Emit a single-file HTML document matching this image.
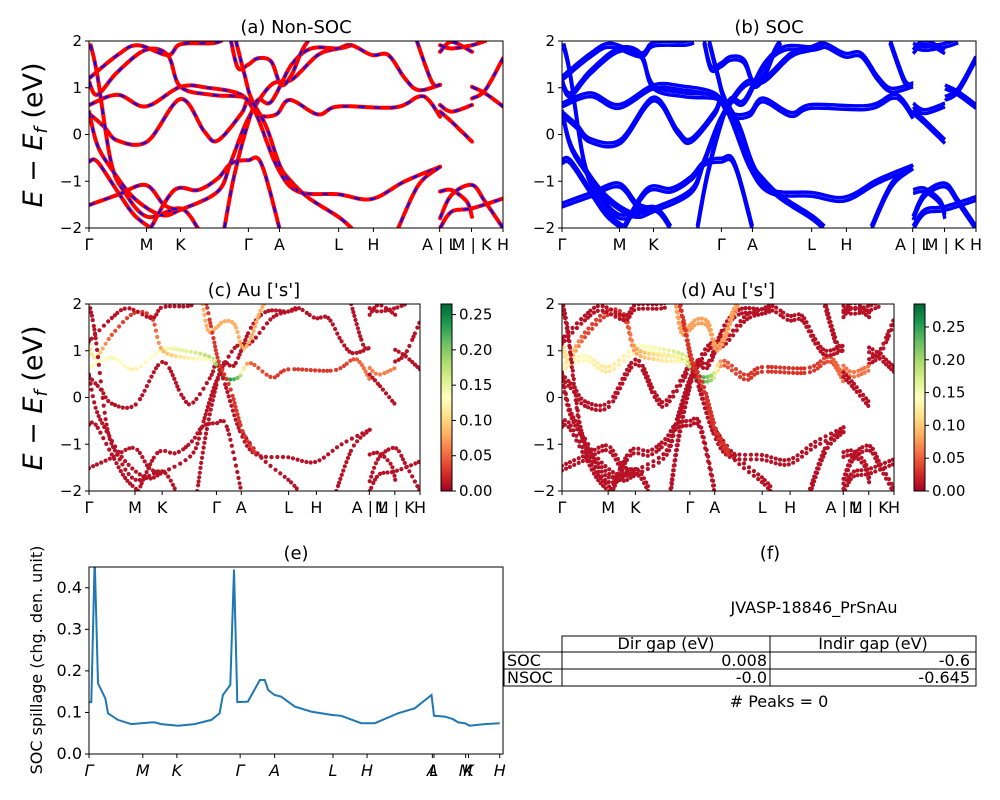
<!DOCTYPE html>
<html><head><meta charset="utf-8"><style>
html,body{margin:0;padding:0;background:#fff}
svg{display:block;font-family:"DejaVu Sans","Liberation Sans",sans-serif}
</style></head><body>
<svg id="fig" width="1000" height="800" viewBox="0 0 1000 800" xmlns="http://www.w3.org/2000/svg"></svg>
<script>
// ---- data ----
const kTickPos = [0,1.39,2.21,3.85,4.6,6.03,6.87,8.47,9.24,10];
const kTickLabels = ["Γ","M","K","Γ","A","L","H","A | L","M | K","H"];
const eTicks = [-2,-1,0,1,2];
const bandK = [
 [0,0.69,1.37,2.21,2.87,3.68,4.08,4.52,4.85,5.53,6.02,7.39,7.96,8.2,8.48],
 [0,0.36,0.69,1.41,2.21,2.79,3.11,3.68,3.85,4.08,4.56,5.05,6.02,6.83,7.63,8.48],
 [8.48,7.96,7.47],
 [0,0.2,0.69,1.37,1.9,2.21,2.95,3.68,3.85],
 [0,0.69,1.17,1.9,2.21,2.95,3.19],
 [0.04,0.2,0.53,0.85,1.41,2.21,2.63],
 [0,0.2,0.53,1.09,1.74,2.21,3.11,3.43,3.85,4.4,4.89,5.53,6.02,6.34,6.83,7.23,7.63,7.96,8.48],
 [0,0.2,0.69,1.09,1.49],
 [0,0.69,1.37,1.82,2.21],
 [1.49,2.06,2.63,3.11,3.43,3.84,4.16,4.6],
 [3.27,3.51,3.85,4.08,4.4,4.89,5.37,6.02,6.34],
 [4.6,5.21,6.02,6.34],
 [3.43,3.6,3.84,4.08,4.4,4.64,4.89,5.13,5.29],
 [3.55,3.76,3.92,4.28,4.64,5.05],
 [7.92,8.28,8.48],
 [8.48,8.76,9.25],
 [8.48,8.76,9.25,9.57],
 [9.25,9.57,10],
 [9.25,9.57,10],
 [8.48,8.76,9.25],
 [8.48,8.76,9.25],
 [8.48,8.76,9.13,9.25],
 [8.48,8.76,9.25,9.57,10],
 [8.48,8.76,9.25,10]
];
const bandE = [
 [0.63,0.85,0.60,1.02,1.0,0.85,0.43,0.43,0.74,0.43,0.6,0.58,0.81,0.74,0.38],
 [0.45,0.17,-0.13,-0.15,0.76,0.06,-0.13,0.45,0.74,0.35,-0.72,-1.22,-1.28,-1.38,-1.0,-0.69],
 [-0.69,-1.08,-2],
 [1.13,0.85,1.34,1.81,1.70,1.02,0.85,0.81,0.70],
 [1.2,1.7,1.91,1.7,1.93,1.95,2.0],
 [1.91,1.27,-0.58,-1.22,-1.76,-1.58,-2],
 [0.49,-0.22,-0.72,-1.36,-1.72,-1.61,-1.22,-0.58,0.35,1.06,1.17,1.70,1.84,1.91,1.70,1.70,1.2,0.95,1.06],
 [-0.58,-0.58,-1.22,-1.72,-2],
 [-1.51,-1.29,-1.08,-1.51,-1.61],
 [-2,-1.19,-1.19,-0.94,-0.62,-0.55,-0.62,-2],
 [-2,-0.87,0.27,0.74,0.7,1.49,1.84,1.84,1.91],
 [-0.72,-1.29,-1.76,-2],
 [2,1.42,1.49,1.63,1.56,1.06,1.27,1.77,2],
 [2,1.27,0.77,0.17,-0.72,-1.22],
 [2,1.13,1.06],
 [1.77,1.98,1.77],
 [1.91,1.84,1.91,2],
 [1.02,0.88,0.6],
 [0.77,0.95,1.63],
 [0.63,0.49,0.63],
 [0.49,0.27,-0.15],
 [-1.22,-1.19,-1.44,-1.76],
 [-1.79,-1.29,-1.08,-1.44,-2],
 [-2,-1.65,-1.58,-1.37]
];
const weightBand0 = [0.12,0.14,0.12,0.14,0.15,0.18,0.26,0.2,0.05,0.03,0.03,0.03,0.04,0.05,0.06];
const weightBand3 = [0.1,0.12,0.04,0.03,0.03,0.08,0.12,0.14,0.2];
const weightOther = [0.01,0.01,0.01,0.01,0.01,0.01,0.01,0.01,0.01,0.01,0.01,0.01,0.08,0.03,0.01,0.01,0.01,0.01,0.01,0.06,0.01,0.01,0.01,0.01];
const cbTicksC = [0,0.05,0.1,0.15,0.2,0.25];
const cbMaxC = 0.265, cbMaxD = 0.285;
const spillK = [0,0.057,0.138,0.219,0.398,0.463,0.706,1.03,1.52,1.6,1.76,2.17,2.57,2.98,3.18,3.26,3.44,3.53,3.61,3.87,4.16,4.28,4.36,4.52,4.68,5.01,5.41,5.9,6.14,6.63,6.96,7.52,7.93,8.34,8.4,8.66,8.86,8.99,9.15,9.27,9.63,10.0];
const spillV = [0.125,0.125,0.47,0.17,0.134,0.098,0.082,0.072,0.076,0.076,0.072,0.068,0.072,0.082,0.098,0.142,0.166,0.444,0.125,0.126,0.178,0.178,0.154,0.142,0.138,0.114,0.102,0.094,0.092,0.074,0.074,0.098,0.11,0.142,0.092,0.09,0.084,0.076,0.074,0.068,0.072,0.074];
const spillTickK = [0,1.31,2.14,3.68,4.52,5.94,6.77,8.36,8.4,9.17,9.24,10];
const spillTickL = ["Γ","M","K","Γ","A","L","H","A","L","M","K","H"];
const spillYTicks = [0,0.1,0.2,0.3,0.4];

// ---- helpers ----
const svg = document.getElementById('fig');
const NS = 'http://www.w3.org/2000/svg';
function mk(tag, attrs, parent){const e=document.createElementNS(NS,tag);for(const k in attrs)e.setAttribute(k,attrs[k]);(parent||svg).appendChild(e);return e;}
function txt(s, attrs, parent){const e=mk('text',attrs,parent);e.textContent=s;return e;}
function rdylgn(t){
 const stops=[[0,[165,0,38]],[0.1,[215,48,39]],[0.2,[244,109,67]],[0.3,[253,174,97]],[0.4,[254,224,139]],[0.5,[255,255,191]],[0.6,[217,239,139]],[0.7,[166,217,106]],[0.8,[102,189,99]],[0.9,[26,152,80]],[1,[0,104,55]]];
 t=Math.max(0,Math.min(1,t));
 for(let i=1;i<stops.length;i++){if(t<=stops[i][0]){const a=stops[i-1],b=stops[i];const f=(t-a[0])/(b[0]-a[0]);const c=a[1].map((v,j)=>Math.round(v+(b[1][j]-v)*f));return `rgb(${c[0]},${c[1]},${c[2]})`;}}
 return 'rgb(0,104,55)';
}
function makeAxes(x0,y0,w,h,kmax,emin,emax){
 return {x:k=>x0+k/kmax*w, y:e=>y0+(emax-e)/(emax-emin)*h, x0,y0,w,h};
}
// Catmull-Rom smoothing in data space -> array of [k,e,w]
function smooth(ks,es,ws){
 const out=[];const n=ks.length;
 const P=i=>[ks[Math.max(0,Math.min(n-1,i))],es[Math.max(0,Math.min(n-1,i))],ws[Math.max(0,Math.min(n-1,i))]];
 for(let i=0;i<n-1;i++){
  const p0=P(i-1),p1=P(i),p2=P(i+1),p3=P(i+2);
  for(let s=0;s<12;s++){const t=s/12,t2=t*t,t3=t2*t;
   const f=j=>0.5*((2*p1[j])+(-p0[j]+p2[j])*t+(2*p0[j]-5*p1[j]+4*p2[j]-p3[j])*t2+(-p0[j]+3*p1[j]-3*p2[j]+p3[j])*t3);
   out.push([f(0),f(1),p1[2]+(p2[2]-p1[2])*t]);
  }
 }
 out.push(P(n-1));
 return out;
}
function weights(i){return i===0?weightBand0:(i===3?weightBand3:bandK[i].map(()=>weightOther[i]));}
function frame(ax,name){
 mk('rect',{x:ax.x0,y:ax.y0,width:ax.w,height:ax.h,fill:'none',stroke:'#000','stroke-width':1,});
}
function yTicks(ax,vals,fmt,name,fs){
 vals.forEach(v=>{const y=ax.y(v);
  mk('line',{x1:ax.x0-4,x2:ax.x0,y1:y,y2:y,stroke:'#000'});
  const t=txt(fmt(v),{x:ax.x0-7,y:y+5,'text-anchor':'end','font-size':fs||15});
  
  
 });
}
function xTicks(ax,ks,labels,name,italic){
 ks.forEach((k,i)=>{const x=ax.x(k);
  mk('line',{x1:x,x2:x,y1:ax.y0+ax.h,y2:ax.y0+ax.h+4,stroke:'#000'});
  const a={x:x,y:ax.y0+ax.h+22,'text-anchor':'middle','font-size':16};
  if(italic)a['font-style']='italic';
  const t=txt(labels[i],a);
  
  
 });
}
function smoothPath(ax,ks,es,off){
 const pts=smooth(ks,es,ks.map(()=>0));
 return pts.map((p,i)=>(i?'L':'M')+ax.x(p[0]).toFixed(1)+' '+ax.y(p[1]+(off||0)).toFixed(1)).join(' ');
}
function pathFor(ax,ks,es){return ks.map((k,i)=>(i?'L':'M')+ax.x(k).toFixed(1)+' '+ax.y(es[i]).toFixed(1)).join(' ');}
function clip(ax,id){const d=mk('clipPath',{id:id});mk('rect',{x:ax.x0,y:ax.y0,width:ax.w,height:ax.h},d);return `url(#${id})`;}
function title(s,x,y,name){const t=txt(s,{x:x,y:y,'text-anchor':'middle','font-size':18});}

// ---- panel a ----
const axA = makeAxes(89,41,414,187,10,-2,2);
const gA = mk('g',{'clip-path':clip(axA,'cA'),});
bandK.forEach((ks,i)=>{
 const d=smoothPath(axA,ks,bandE[i]);
 const p1=mk('path',{d:d,fill:'none',stroke:'#ff0000','stroke-width':4,'stroke-linejoin':'round','stroke-linecap':'round'},gA);
 
 
 const p2=mk('path',{d:d,fill:'none',stroke:'#0000ff','stroke-width':2,'stroke-dasharray':'6 10'},gA);
 
 
});
frame(axA,'panel-a');
yTicks(axA,eTicks,v=>v<0?'−'+(-v):''+v,'panel-a');
xTicks(axA,kTickPos,kTickLabels,'panel-a');
title('(a) Non-SOC',296,33,'panel-a-title');

// ---- panel b ----
const axB = makeAxes(562,41,414,187,10,-2,2);
const gB = mk('g',{'clip-path':clip(axB,'cB'),});
bandK.forEach((ks,i)=>{
 [-0.04,0.04].forEach(off=>{
  const p=mk('path',{d:smoothPath(axB,ks,bandE[i],off),fill:'none',stroke:'#0000ff','stroke-width':3.5,'stroke-linejoin':'round'},gB);
  
  
 });
});
frame(axB,'panel-b');
yTicks(axB,eTicks,v=>v<0?'−'+(-v):''+v,'panel-b');
xTicks(axB,kTickPos,kTickLabels,'panel-b');
title('(b) SOC',769,33,'panel-b-title');

// ---- panels c, d ----
function dotsPanel(ax,cmax,id,split){
 const g=mk('g',{'clip-path':clip(ax,id),});
 const offs=split?[-0.05,0.05]:[0];
 bandK.forEach((ks,i)=>{
  const pts=smooth(ks,bandE[i],weights(i));
  offs.forEach(off=>{
   let acc=3.4,px=null,py=null;
   pts.forEach(p=>{
    const x=ax.x(p[0]),y=ax.y(p[1]+off);
    if(px!==null)acc+=Math.hypot(x-px,y-py);
    px=x;py=y;
    if(acc>=3.4){acc=0;
     const c=mk('circle',{cx:x.toFixed(1),cy:y.toFixed(1),r:2.1,fill:rdylgn(p[2]/cmax)},g);
     
     
    }
   });
  });
 });
}
function colorbar(x,y,w,h,cmax,id){
 const gr=mk('linearGradient',{id:id,x1:0,y1:1,x2:0,y2:0});
 for(let i=0;i<=10;i++)mk('stop',{offset:i/10,'stop-color':rdylgn(i/10)},gr);
 mk('rect',{x:x,y:y,width:w,height:h,fill:`url(#${id})`,stroke:'#000',});
 cbTicksC.forEach(v=>{if(v>cmax)return;const yy=y+h-v/cmax*h;
  mk('line',{x1:x+w,x2:x+w+4,y1:yy,y2:yy,stroke:'#000'});
  const t=txt(v.toFixed(2),{x:x+w+7,y:yy+5,'font-size':15});
  
  
 });
}
const axC = makeAxes(89,304,331,187,10,-2,2);
dotsPanel(axC,cbMaxC,'cC',false);
frame(axC,'panel-c');
yTicks(axC,eTicks,v=>v<0?'−'+(-v):''+v,'panel-c');
xTicks(axC,kTickPos,kTickLabels,'panel-c');
title("(c)  Au ['s']",254,296,'panel-c-title');
colorbar(441,304,11,187,cbMaxC,'cbC');

const axD = makeAxes(562,304,332,187,10,-2,2);
dotsPanel(axD,cbMaxD,'cD',true);
frame(axD,'panel-d');
yTicks(axD,eTicks,v=>v<0?'−'+(-v):''+v,'panel-d');
xTicks(axD,kTickPos,kTickLabels,'panel-d');
title("(d) Au ['s']",728,296,'panel-d-title');
colorbar(914,304,11,187,cbMaxD,'cbD');

// y labels
[135,398].forEach((cy,i)=>{
 const t=mk('text',{x:0,y:0,transform:`translate(42 ${cy}) rotate(-90)`,'text-anchor':'middle','font-size':27});
 
 
 t.innerHTML='<tspan font-style="italic">E</tspan> − <tspan font-style="italic">E</tspan><tspan font-style="italic" font-size="18" dy="5">f</tspan><tspan dy="-5"> (eV)</tspan>';
});

// ---- panel e ----
const axE = makeAxes(89,567,414,187,10.08,0,0.45);
const gE = mk('g',{'clip-path':clip(axE,'cE')});
const sp=mk('path',{d:pathFor(axE,spillK,spillV),fill:'none',stroke:'#1f77b4','stroke-width':2},gE);


frame(axE,'panel-e');
yTicks(axE,spillYTicks,v=>v.toFixed(1),'panel-e',16);
xTicks(axE,spillTickK,spillTickL,'panel-e',true);
title('(e)',296,559,'panel-e-title');
const st=txt('SOC spillage (chg. den. unit)',{x:0,y:0,transform:'translate(42 660) rotate(-90)','text-anchor':'middle','font-size':16});



// ---- panel f ----
title('(f)',770,559,'panel-f-title');
const jt=txt('JVASP-18846_PrSnAu',{x:814,y:613,'text-anchor':'middle','font-size':16});


const tg=mk('g',{'font-size':16});
mk('rect',{x:562,y:636,width:414,height:16,fill:'none',stroke:'#000'},tg);
mk('line',{x1:770,x2:770,y1:636,y2:686,stroke:'#000'},tg);
mk('rect',{x:504,y:652,width:472,height:17,fill:'none',stroke:'#000'},tg);
mk('rect',{x:504,y:669,width:472,height:17,fill:'none',stroke:'#000'},tg);
mk('line',{x1:562,x2:562,y1:652,y2:686,stroke:'#000'},tg);
const cells=[['Dir gap (eV)',666,649,'middle'],['Indir gap (eV)',873,649,'middle'],['SOC',507,666,'start'],['0.008',767,666,'end'],['-0.6',970,666,'end'],['NSOC',507,683,'start'],['-0.0',767,683,'end'],['-0.645',970,683,'end']];
cells.forEach(c=>{const t=txt(c[0],{x:c[1],y:c[2],'text-anchor':c[3]},tg);
 
 });
const pk=txt('# Peaks = 0',{x:779,y:707,'text-anchor':'middle','font-size':16});


</script>
</body></html>
